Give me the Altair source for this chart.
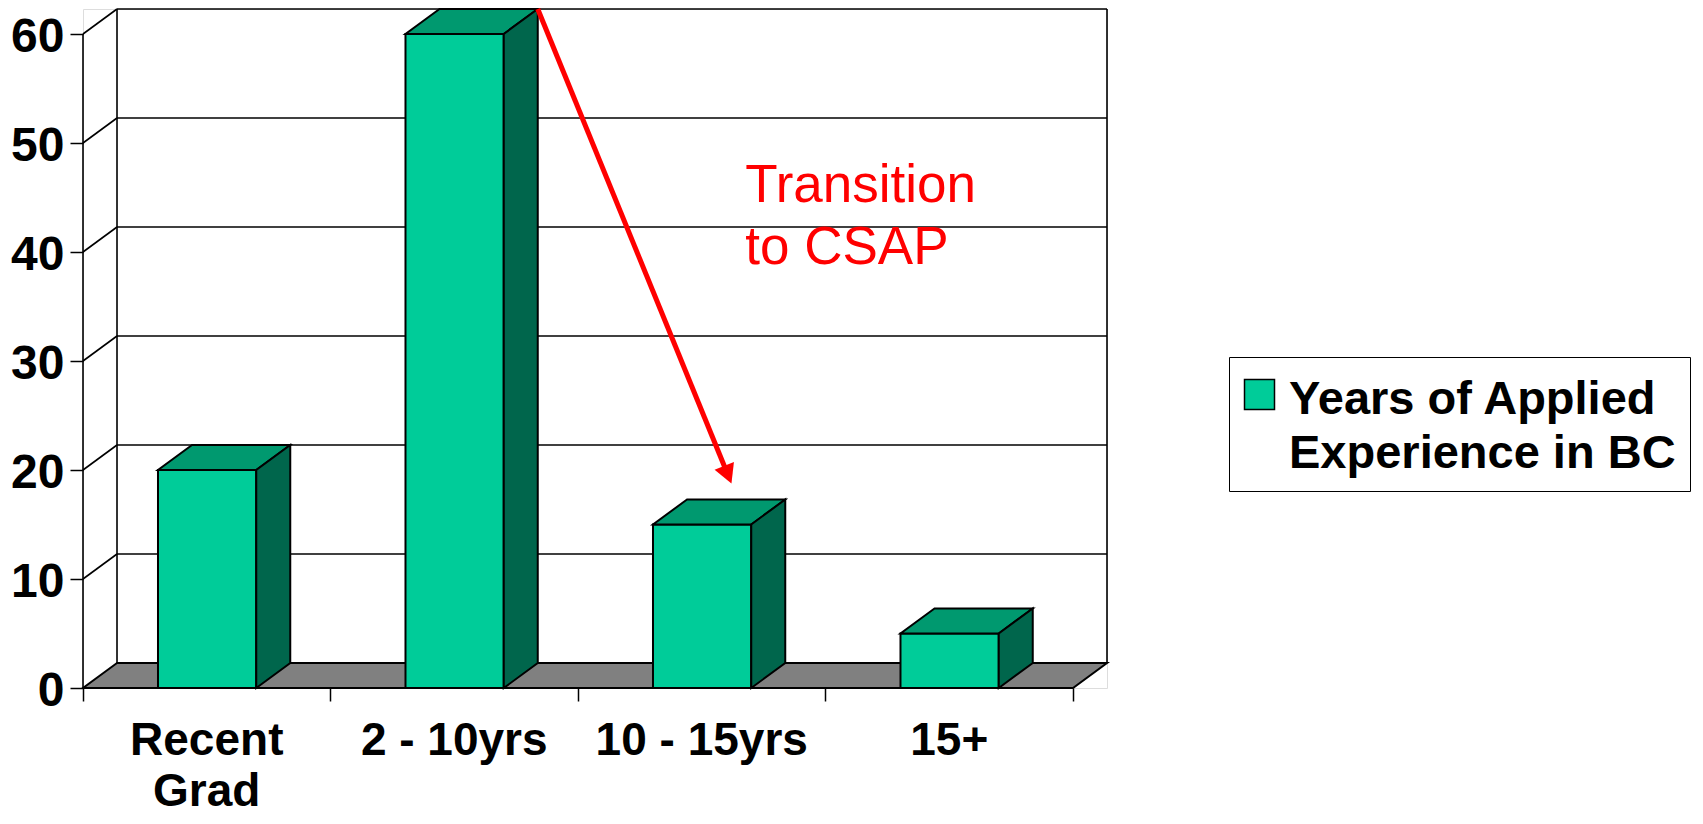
import math
import altair as alt
import pandas as pd

# ---------------- data ----------------
categories = ["Recent\nGrad", "2 - 10yrs", "10 - 15yrs", "15+"]
values = [20, 60, 15, 5]
series_name = "Years of Applied\nExperience in BC"
y_ticks = [0, 10, 20, 30, 40, 50, 60]
annotation_text = ["Transition\nto CSAP"]
annotation_pos = [2.676, 44.6]      # data units (x = category index, y = value)
arrow_tip = [2.62, 18.76]           # data units

# ---------------- geometry / style ----------------
W, H = 1024, 679
DX = 0.1374          # 3-D depth, x units
DY = 2.2925          # 3-D depth, y units
N = len(categories)
X_MAX = N + DX
Y_MAX = max(y_ticks) + DY
BAR_L, BAR_R = 0.303, 0.700
FONT = "Liberation Sans"
FRONT, TOP, SIDE = "#00CC99", "#00996F", "#00664C"
LEG_DY = 5

xs = alt.Scale(domain=[0, X_MAX], nice=False, zero=False)
ys = alt.Scale(domain=[0, Y_MAX], nice=False, zero=False)
AX_X = alt.Axis(values=list(range(N + 1)), labels=False, domain=False, grid=False, tickSize=13,
                tickColor="black", tickWidth=1.5, title=None)
AX_Y = alt.Axis(values=y_ticks, domain=False, grid=False, tickSize=13, tickColor="black",
                tickWidth=1.5, labelFont=FONT, labelFontSize=48, labelFontWeight="bold",
                labelColor="black", labelPadding=6, labelOffset=-1.7, title=None)


def X(f):
    return alt.X(f"{f}:Q", scale=xs, axis=AX_X, title=None)


def Y(f):
    return alt.Y(f"{f}:Q", scale=ys, axis=AX_Y, title=None)


# back wall horizontal gridlines
back_grid = pd.DataFrame({"x": [DX] * len(y_ticks), "x2": [N + DX] * len(y_ticks),
                          "y": [v + DY for v in y_ticks]})
grid_layer = alt.Chart(back_grid).mark_rule(color="black", strokeWidth=1.6).encode(
    x=X("x"), x2="x2", y=Y("y"))

# back wall verticals + left wall diagonals + front axis
walls = [{"x": DX, "x2": DX, "y": DY, "y2": max(y_ticks) + DY},
         {"x": N + DX, "x2": N + DX, "y": DY, "y2": max(y_ticks) + DY},
         {"x": 0, "x2": 0, "y": 0, "y2": max(y_ticks)}]
for v in y_ticks[1:]:
    walls.append({"x": 0, "x2": DX, "y": v, "y2": v + DY})
wall_layer = alt.Chart(pd.DataFrame(walls)).mark_rule(color="black", strokeWidth=1.6).encode(
    x=X("x"), x2="x2", y=Y("y"), y2="y2")

# floor
floor = pd.DataFrame({"y": [0, DY], "x": [0, DX], "x2": [N, N + DX]})
floor_layer = alt.Chart(floor).mark_area(orient="horizontal", color="#808080", stroke="black",
                                         strokeWidth=2, opacity=1).encode(
    y=Y("y"), x=X("x"), x2="x2")

# bars
front_rows, top_rows, side_rows = [], [], []
for i, (c, v) in enumerate(zip(categories, values)):
    l, r = i + BAR_L, i + BAR_R
    front_rows.append({"bar": i, "x": l, "x2": r, "y": 0, "y2": v, "series": series_name})
    top_rows += [{"bar": i, "y": v, "x": l, "x2": r},
                 {"bar": i, "y": v + DY, "x": l + DX, "x2": r + DX}]
    side_rows += [{"bar": i, "x": r, "y": 0, "y2": v},
                  {"bar": i, "x": r + DX, "y": DY, "y2": v + DY}]

front_layer = alt.Chart(pd.DataFrame(front_rows)).mark_rect(stroke="black", strokeWidth=2).encode(
    x=X("x"), x2="x2", y=Y("y"), y2="y2",
    color=alt.Color("series:N", scale=alt.Scale(domain=[series_name], range=[FRONT]),
                    legend=alt.Legend(title=None, orient="none", legendX=1146, legendY=348,
                                      symbolType="square", symbolSize=900, symbolStrokeColor="black",
                                      symbolStrokeWidth=1.5, symbolOffset=-7, labelFont=FONT,
                                      labelFontSize=47, labelFontWeight="bold", labelColor="black",
                                      labelLimit=0, labelOffset=6,
                                      labelExpr="split(datum.label, '\\n')",
                                      padding=14, strokeColor="black", fillColor="white")),
)
top_layer = alt.Chart(pd.DataFrame(top_rows)).mark_area(orient="horizontal", color=TOP, stroke="black",
                                                        strokeWidth=2, opacity=1).encode(
    y=Y("y"), x=X("x"), x2="x2", detail="bar:N")
side_layer = alt.Chart(pd.DataFrame(side_rows)).mark_area(orient="vertical", color=SIDE, stroke="black",
                                                          strokeWidth=2, opacity=1).encode(
    x=X("x"), y=Y("y"), y2="y2", detail="bar:N")

# arrow from the top back corner of the tallest bar to the 10-15yrs bar
px_x, px_y = W / X_MAX, H / Y_MAX
sx, sy = 1 + BAR_R + DX, values[1] + DY
ddx_px = (arrow_tip[0] - sx) * px_x
ddy_px = (sy - arrow_tip[1]) * px_y
L = math.hypot(ddx_px, ddy_px)
HEAD = 19.0
angle = (360 - math.degrees(math.atan2(ddx_px, ddy_px))) % 360
ex = arrow_tip[0] - (ddx_px / L) * HEAD * 0.5 / px_x
ey = arrow_tip[1] + (ddy_px / L) * HEAD * 0.5 / px_y
arrow_line = alt.Chart(pd.DataFrame([{"x": sx, "y": sy, "x2": ex, "y2": ey}])).mark_rule(
    color="#FF0000", strokeWidth=5).encode(x=X("x"), y=Y("y"), x2="x2", y2="y2")
arrow_head = alt.Chart(pd.DataFrame([{"x": arrow_tip[0], "y": arrow_tip[1]}])).mark_point(
    shape="M0,0L-0.55,-1L0.55,-1Z", filled=True, color="#FF0000", opacity=1,
    size=(2 * HEAD) ** 2, angle=angle, strokeWidth=0).encode(x=X("x"), y=Y("y"))

annot = alt.Chart(pd.DataFrame({"x": [annotation_pos[0]], "y": [annotation_pos[1]],
                                "t": annotation_text})).mark_text(
    font=FONT, fontSize=53, color="#FF0000", align="left", baseline="alphabetic",
    lineBreak="\n", lineHeight=62.5).encode(x=X("x"), y=Y("y"), text="t:N")

cat_labels = alt.Chart(pd.DataFrame({"x": [i + 0.5 for i in range(N)], "t": categories})).mark_text(
    font=FONT, fontSize=46, fontWeight="bold", color="black", align="center", baseline="alphabetic",
    lineBreak="\n", lineHeight=51).encode(x=X("x"), y=alt.value(746), text="t:N")

chart = alt.layer(grid_layer, wall_layer, floor_layer, front_layer, top_layer, side_layer,
                  arrow_line, arrow_head, annot, cat_labels).properties(
    width=W, height=H,
    padding={"left": 75, "top": 1, "right": 588, "bottom": 128},
    autosize=alt.AutoSizeParams(type="none"),
    background="white",
).configure_view(stroke=None).configure(style={"guide-label": {"lineHeight": 54, "dy": LEG_DY}})

chart.save("out.html", embed_options={"renderer": "svg", "actions": False})
